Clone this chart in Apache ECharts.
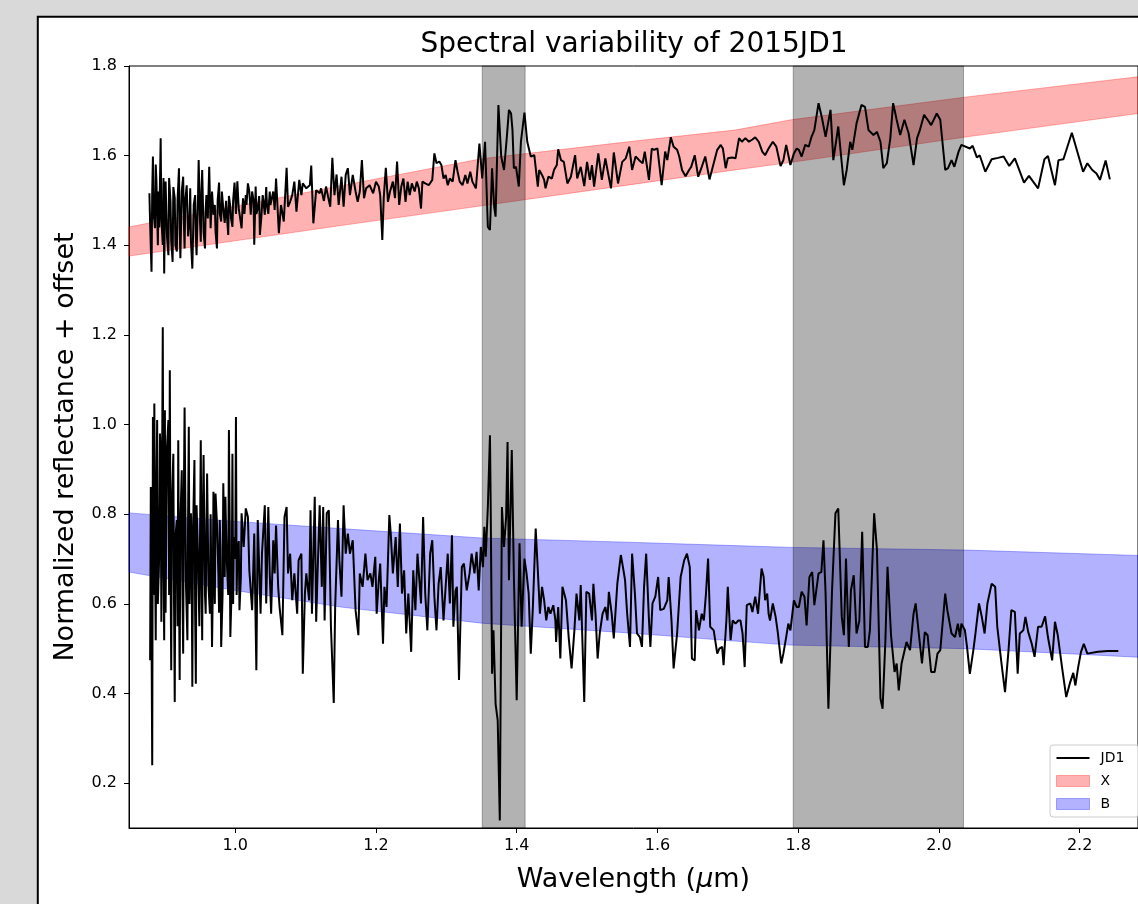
<!DOCTYPE html>
<html><head><meta charset="utf-8">
<script src="https://cdn.jsdelivr.net/npm/echarts@6/dist/echarts.min.js"></script>
<style>html,body{margin:0;padding:0;background:#d9d9d9;overflow:hidden}#chart{width:1138px;height:904px}</style>
</head><body><div id="chart"></div>
<script>
const xTicks = [1.0, 1.2, 1.4, 1.6, 1.8, 2.0, 2.2];
const yTicks = [0.2, 0.4, 0.6, 0.8, 1.0, 1.2, 1.4, 1.6, 1.8];
const absorptionBands = [[1.351, 1.412], [1.793, 2.035]];

const templateWave = [0.849, 1.0, 1.15, 1.35, 1.57, 1.71, 1.79, 2.04, 2.283];
const xLower = [1.376, 1.410, 1.444, 1.488, 1.537, 1.568, 1.585, 1.642, 1.694];
const xUpper = [1.441, 1.487, 1.533, 1.593, 1.633, 1.657, 1.680, 1.731, 1.776];
const bLower = [0.671, 0.630, 0.593, 0.557, 0.534, 0.517, 0.508, 0.500, 0.481];
const bUpper = [0.803, 0.784, 0.768, 0.747, 0.737, 0.730, 0.726, 0.720, 0.708];

const jd1Top = [
[0.878,1.516],[0.879,1.45],[0.881,1.341],[0.882,1.52],[0.883,1.598],[0.884,1.47],[0.886,1.438],[0.887,1.58],[0.888,1.542],[0.890,1.40],[0.891,1.52],[0.892,1.44],[0.894,1.639],[0.895,1.46],[0.897,1.401],[0.898,1.55],[0.899,1.337],[0.900,1.48],[0.901,1.542],[0.903,1.42],[0.905,1.378],[0.906,1.55],[0.908,1.497],[0.909,1.41],[0.911,1.363],[0.912,1.53],[0.914,1.505],[0.915,1.40],[0.917,1.386],[0.918,1.50],[0.920,1.572],[0.921,1.44],[0.922,1.371],[0.924,1.52],[0.926,1.553],[0.927,1.45],[0.928,1.393],[0.929,1.50],[0.931,1.534],[0.933,1.42],[0.935,1.460],[0.936,1.527],[0.937,1.41],[0.939,1.348],[0.941,1.49],[0.943,1.512],[0.944,1.42],[0.945,1.378],[0.947,1.50],[0.948,1.590],[0.950,1.45],[0.951,1.408],[0.952,1.52],[0.953,1.568],[0.955,1.43],[0.957,1.393],[0.958,1.48],[0.959,1.512],[0.961,1.46],[0.963,1.575],[0.965,1.438],[0.967,1.52],[0.969,1.468],[0.971,1.490],[0.972,1.43],[0.974,1.393],[0.975,1.50],[0.977,1.540],[0.978,1.47],[0.980,1.453],[0.981,1.52],[0.983,1.482],[0.985,1.45],[0.987,1.499],[0.988,1.47],[0.990,1.423],[0.991,1.51],[0.993,1.486],[0.994,1.46],[0.996,1.441],[0.997,1.50],[0.999,1.540],[1.001,1.47],[1.003,1.543],[1.004,1.51],[1.005,1.482],[1.007,1.46],[1.009,1.438],[1.011,1.505],[1.013,1.47],[1.015,1.512],[1.016,1.49],[1.018,1.538],[1.020,1.52],[1.022,1.468],[1.023,1.47],[1.024,1.520],[1.026,1.50],[1.027,1.401],[1.029,1.531],[1.030,1.47],[1.032,1.482],[1.034,1.51],[1.035,1.423],[1.037,1.46],[1.039,1.512],[1.040,1.50],[1.042,1.468],[1.044,1.53],[1.045,1.490],[1.047,1.47],[1.049,1.520],[1.050,1.49],[1.052,1.505],[1.054,1.52],[1.056,1.479],[1.058,1.549],[1.062,1.427],[1.065,1.490],[1.069,1.453],[1.073,1.573],[1.075,1.486],[1.078,1.497],[1.081,1.512],[1.084,1.542],[1.087,1.475],[1.091,1.546],[1.094,1.512],[1.096,1.538],[1.101,1.527],[1.106,1.534],[1.108,1.578],[1.111,1.449],[1.115,1.523],[1.120,1.516],[1.122,1.527],[1.126,1.499],[1.129,1.531],[1.132,1.508],[1.135,1.486],[1.138,1.595],[1.141,1.512],[1.144,1.558],[1.147,1.490],[1.151,1.553],[1.154,1.486],[1.157,1.557],[1.160,1.572],[1.163,1.512],[1.167,1.557],[1.171,1.520],[1.174,1.497],[1.177,1.520],[1.180,1.590],[1.183,1.505],[1.186,1.527],[1.191,1.534],[1.196,1.516],[1.200,1.542],[1.204,1.531],[1.206,1.512],[1.209,1.412],[1.211,1.505],[1.214,1.573],[1.217,1.497],[1.220,1.520],[1.224,1.542],[1.227,1.505],[1.230,1.587],[1.233,1.490],[1.236,1.531],[1.239,1.549],[1.242,1.497],[1.245,1.542],[1.248,1.512],[1.251,1.538],[1.255,1.520],[1.258,1.542],[1.261,1.527],[1.264,1.482],[1.266,1.542],[1.270,1.538],[1.275,1.534],[1.280,1.546],[1.283,1.605],[1.286,1.583],[1.290,1.587],[1.293,1.579],[1.296,1.549],[1.299,1.557],[1.302,1.534],[1.305,1.549],[1.309,1.542],[1.313,1.590],[1.316,1.564],[1.319,1.542],[1.323,1.534],[1.327,1.557],[1.330,1.538],[1.334,1.564],[1.337,1.542],
[1.342,1.527],[1.347,1.627],[1.351,1.549],[1.355,1.631],[1.359,1.441],[1.362,1.434],[1.365,1.572],[1.368,1.486],[1.370,1.464],[1.374,1.713],[1.378,1.598],[1.382,1.568],[1.386,1.642],[1.389,1.702],[1.392,1.694],[1.394,1.657],[1.396,1.572],[1.399,1.575],[1.403,1.531],[1.406,1.631],[1.411,1.696],[1.415,1.631],[1.420,1.598],[1.425,1.601],[1.430,1.531],[1.432,1.568],[1.436,1.557],[1.439,1.546],[1.441,1.527],[1.445,1.553],[1.450,1.549],[1.453,1.568],[1.457,1.579],[1.459,1.614],[1.463,1.590],[1.467,1.586],[1.472,1.538],[1.477,1.553],[1.483,1.601],[1.486,1.549],[1.491,1.575],[1.496,1.532],[1.500,1.586],[1.504,1.546],[1.507,1.579],[1.510,1.531],[1.516,1.605],[1.521,1.546],[1.526,1.594],[1.530,1.560],[1.534,1.527],[1.538,1.607],[1.544,1.538],[1.550,1.586],[1.555,1.594],[1.560,1.620],[1.564,1.568],[1.569,1.598],[1.574,1.590],[1.579,1.583],[1.582,1.609],[1.588,1.546],[1.592,1.616],[1.595,1.613],[1.600,1.616],[1.606,1.534],[1.611,1.609],[1.614,1.590],[1.619,1.641],[1.623,1.620],[1.628,1.613],[1.631,1.598],[1.635,1.568],[1.640,1.554],[1.645,1.568],[1.648,1.575],[1.653,1.601],[1.658,1.553],[1.663,1.575],[1.668,1.598],[1.674,1.547],[1.680,1.583],[1.685,1.613],[1.690,1.624],[1.693,1.616],[1.697,1.572],[1.700,1.594],[1.706,1.596],[1.711,1.594],[1.716,1.639],[1.720,1.631],[1.725,1.639],[1.730,1.631],[1.735,1.636],[1.739,1.641],[1.744,1.631],[1.749,1.609],[1.753,1.601],[1.758,1.616],[1.764,1.631],[1.769,1.620],[1.775,1.577],[1.779,1.590],[1.783,1.624],[1.789,1.579],[1.794,1.605],[1.798,1.616],
[1.801,1.613],[1.805,1.598],[1.810,1.624],[1.815,1.620],[1.819,1.642],[1.823,1.657],[1.829,1.717],[1.834,1.683],[1.839,1.642],[1.846,1.702],[1.850,1.590],[1.857,1.665],[1.865,1.534],[1.869,1.568],[1.874,1.631],[1.877,1.613],[1.883,1.672],[1.890,1.713],[1.895,1.709],[1.900,1.657],[1.907,1.646],[1.912,1.653],[1.917,1.631],[1.921,1.572],[1.926,1.583],[1.931,1.639],[1.935,1.717],[1.940,1.680],[1.945,1.646],[1.951,1.680],[1.957,1.650],[1.964,1.579],[1.969,1.639],[1.973,1.657],[1.979,1.691],[1.984,1.680],[1.989,1.668],[1.997,1.694],[2.002,1.680],[2.009,1.568],[2.013,1.572],[2.018,1.590],[2.022,1.575],[2.028,1.609],[2.032,1.624],[2.044,1.616],[2.048,1.622],[2.054,1.596],[2.058,1.601],[2.066,1.564],[2.075,1.592],[2.084,1.595],[2.092,1.598],[2.100,1.577],[2.108,1.594],[2.121,1.540],[2.128,1.555],[2.141,1.527],[2.150,1.592],[2.155,1.599],[2.165,1.534],[2.170,1.590],[2.177,1.592],[2.189,1.651],[2.205,1.564],[2.211,1.583],[2.218,1.568],[2.224,1.560],[2.229,1.546],[2.237,1.589],[2.243,1.547]
];

const jd1Bottom = [
[0.879,0.474],[0.880,0.861],[0.882,0.240],[0.883,1.017],[0.884,0.62],[0.885,1.047],[0.886,0.72],[0.887,0.519],[0.888,0.84],[0.889,1.010],[0.890,0.60],[0.892,0.712],[0.893,0.98],[0.894,0.935],[0.895,0.56],[0.897,1.217],[0.898,0.70],[0.899,0.519],[0.900,1.032],[0.901,0.58],[0.902,0.772],[0.903,0.95],[0.905,1.010],[0.906,0.62],[0.907,1.121],[0.908,0.70],[0.909,0.452],[0.910,0.82],[0.912,0.935],[0.913,0.60],[0.914,0.381],[0.915,0.75],[0.917,0.787],[0.918,0.55],[0.919,0.965],[0.920,0.66],[0.921,0.430],[0.922,0.78],[0.924,0.898],[0.925,0.62],[0.926,0.489],[0.927,0.85],[0.928,1.038],[0.930,0.64],[0.932,0.519],[0.933,0.80],[0.934,0.995],[0.935,0.60],[0.937,0.802],[0.938,0.70],[0.939,0.415],[0.940,0.76],[0.942,0.921],[0.943,0.58],[0.944,0.422],[0.945,0.82],[0.947,0.712],[0.949,0.55],[0.951,0.965],[0.952,0.68],[0.953,0.519],[0.954,0.80],[0.955,0.932],[0.957,0.62],[0.958,0.578],[0.959,0.75],[0.960,0.891],[0.962,0.64],[0.964,0.578],[0.965,0.80],[0.967,0.504],[0.968,0.62],[0.969,0.850],[0.971,0.60],[0.972,0.846],[0.974,0.78],[0.976,0.668],[0.977,0.58],[0.978,0.787],[0.979,0.72],[0.980,0.504],[0.982,0.62],[0.983,0.869],[0.985,0.66],[0.986,0.839],[0.987,0.76],[0.988,0.697],[0.990,0.62],[0.991,0.988],[0.992,0.80],[0.993,0.526],[0.995,0.64],[0.996,0.935],[0.997,0.60],[0.998,0.749],[1.000,0.70],[1.001,1.017],[1.002,0.62],[1.003,0.712],[1.005,0.74],[1.006,0.586],[1.008,0.66],[1.009,0.802],[1.012,0.727],[1.015,0.813],[1.018,0.794],[1.020,0.675],[1.024,0.586],[1.027,0.757],[1.030,0.452],[1.032,0.787],[1.036,0.578],[1.038,0.712],[1.042,0.820],[1.044,0.601],[1.047,0.816],[1.049,0.668],[1.051,0.578],[1.054,0.742],[1.056,0.668],[1.058,0.775],[1.061,0.638],[1.063,0.593],[1.067,0.530],[1.070,0.794],[1.073,0.816],[1.075,0.668],[1.078,0.712],[1.081,0.608],[1.084,0.668],[1.088,0.578],[1.090,0.697],[1.094,0.712],[1.096,0.444],[1.099,0.623],[1.101,0.668],[1.105,0.608],[1.107,0.809],[1.109,0.578],[1.113,0.839],[1.115,0.560],[1.117,0.668],[1.120,0.820],[1.123,0.638],[1.125,0.816],[1.127,0.563],[1.130,0.802],[1.133,0.809],[1.136,0.549],[1.140,0.379],[1.142,0.593],[1.146,0.787],[1.148,0.697],[1.151,0.616],[1.154,0.820],[1.157,0.712],[1.160,0.757],[1.163,0.712],[1.167,0.742],[1.171,0.586],[1.175,0.530],[1.177,0.668],[1.181,0.638],[1.185,0.712],[1.188,0.653],[1.192,0.668],[1.195,0.638],[1.199,0.705],[1.201,0.578],[1.204,0.653],[1.206,0.690],[1.210,0.511],[1.212,0.638],[1.215,0.593],[1.219,0.798],[1.221,0.757],[1.224,0.668],[1.228,0.749],[1.231,0.638],[1.234,0.779],[1.237,0.623],[1.240,0.675],[1.243,0.534],[1.246,0.623],[1.250,0.493],[1.253,0.675],[1.256,0.586],[1.259,0.712],[1.264,0.601],[1.267,0.794],[1.270,0.623],[1.273,0.541],[1.277,0.712],[1.280,0.742],[1.283,0.616],[1.286,0.541],[1.289,0.645],[1.292,0.682],[1.296,0.563],[1.299,0.638],[1.302,0.712],[1.305,0.601],[1.308,0.753],[1.310,0.549],[1.313,0.630],[1.315,0.638],[1.318,0.430],[1.322,0.682],[1.325,0.690],[1.329,0.630],[1.333,0.668],[1.336,0.712],[1.340,0.668],
[1.343,0.716],[1.346,0.630],[1.349,0.727],[1.352,0.682],[1.354,0.772],[1.356,0.705],[1.359,0.816],[1.362,0.976],[1.363,0.824],[1.365,0.444],[1.367,0.541],[1.370,0.377],[1.373,0.340],[1.376,0.117],[1.379,0.816],[1.382,0.727],[1.385,0.794],[1.387,0.961],[1.389,0.653],[1.393,0.943],[1.396,0.660],[1.400,0.385],[1.404,0.735],[1.407,0.549],[1.411,0.701],[1.414,0.668],[1.417,0.623],[1.420,0.489],[1.423,0.593],[1.427,0.768],[1.430,0.675],[1.433,0.578],[1.436,0.638],[1.439,0.608],[1.442,0.563],[1.445,0.593],[1.448,0.578],[1.452,0.597],[1.455,0.563],[1.456,0.515],[1.459,0.593],[1.462,0.478],[1.465,0.638],[1.470,0.608],[1.474,0.523],[1.478,0.456],[1.482,0.541],[1.485,0.623],[1.489,0.563],[1.491,0.642],[1.496,0.381],[1.499,0.627],[1.503,0.623],[1.507,0.563],[1.509,0.645],[1.512,0.578],[1.515,0.478],[1.518,0.534],[1.522,0.578],[1.526,0.593],[1.529,0.563],[1.531,0.627],[1.535,0.578],[1.538,0.523],[1.543,0.645],[1.548,0.709],[1.551,0.682],[1.554,0.653],[1.557,0.578],[1.561,0.504],[1.564,0.712],[1.568,0.623],[1.571,0.534],[1.575,0.526],[1.578,0.504],[1.581,0.638],[1.584,0.712],[1.588,0.563],[1.590,0.504],[1.593,0.601],[1.597,0.616],[1.601,0.660],[1.604,0.586],[1.609,0.589],[1.614,0.608],[1.616,0.660],[1.620,0.563],[1.623,0.456],[1.628,0.534],[1.633,0.660],[1.638,0.697],[1.642,0.712],[1.646,0.682],[1.649,0.478],[1.653,0.474],[1.655,0.586],[1.659,0.541],[1.663,0.578],[1.666,0.563],[1.669,0.623],[1.672,0.701],[1.675,0.549],[1.680,0.541],[1.685,0.489],[1.688,0.500],[1.692,0.504],[1.694,0.463],[1.698,0.563],[1.700,0.638],[1.704,0.519],[1.707,0.563],[1.711,0.556],[1.715,0.563],[1.718,0.563],[1.721,0.534],[1.724,0.459],[1.727,0.597],[1.732,0.601],[1.735,0.582],[1.739,0.616],[1.743,0.578],[1.748,0.679],[1.751,0.660],[1.753,0.608],[1.756,0.623],[1.758,0.578],[1.760,0.563],[1.764,0.601],[1.768,0.571],[1.771,0.537],[1.776,0.467],[1.779,0.489],[1.783,0.526],[1.786,0.556],[1.789,0.541],[1.794,0.608],[1.798,0.593],
[1.801,0.593],[1.805,0.627],[1.809,0.616],[1.812,0.552],[1.816,0.660],[1.820,0.671],[1.823,0.597],[1.829,0.668],[1.833,0.671],[1.836,0.742],[1.839,0.623],[1.843,0.366],[1.848,0.623],[1.853,0.802],[1.857,0.813],[1.862,0.571],[1.865,0.530],[1.868,0.701],[1.872,0.504],[1.875,0.630],[1.879,0.664],[1.883,0.534],[1.887,0.563],[1.891,0.761],[1.895,0.504],[1.899,0.504],[1.902,0.541],[1.908,0.802],[1.912,0.720],[1.917,0.389],[1.920,0.366],[1.924,0.519],[1.927,0.683],[1.932,0.530],[1.937,0.448],[1.940,0.467],[1.943,0.407],[1.947,0.467],[1.954,0.515],[1.959,0.497],[1.964,0.578],[1.967,0.601],[1.971,0.541],[1.976,0.467],[1.980,0.537],[1.984,0.530],[1.989,0.448],[1.994,0.448],[1.998,0.489],[2.002,0.497],[2.004,0.497],[2.009,0.623],[2.012,0.586],[2.018,0.534],[2.023,0.526],[2.027,0.556],[2.030,0.526],[2.032,0.556],[2.037,0.541],[2.040,0.504],[2.044,0.444],[2.049,0.497],[2.052,0.534],[2.057,0.601],[2.061,0.571],[2.065,0.534],[2.069,0.601],[2.075,0.645],[2.080,0.638],[2.083,0.549],[2.089,0.467],[2.094,0.403],[2.099,0.497],[2.103,0.586],[2.108,0.582],[2.112,0.444],[2.115,0.534],[2.120,0.541],[2.123,0.571],[2.127,0.537],[2.132,0.511],[2.136,0.482],[2.141,0.549],[2.146,0.549],[2.151,0.572],[2.155,0.526],[2.161,0.474],[2.165,0.560],[2.169,0.530],[2.175,0.459],[2.181,0.392],[2.186,0.422],[2.191,0.446],[2.194,0.418],[2.198,0.459],[2.202,0.493],[2.206,0.511],[2.211,0.489],[2.226,0.493],[2.240,0.495],[2.255,0.495]
];

const FONT = 'DejaVu Sans';
const RED = 'rgba(255,0,0,0.3)';
const BLUE = 'rgba(0,0,255,0.3)';
const GREY = 'rgba(0,0,0,0.3)';

function bandSeries(name, lower, upper, color) {
  return {
    name: name, type: 'custom', silent: true, z: 2,
    itemStyle: { color: color },
    encode: { x: 0, y: [1, 2] },
    data: templateWave.map((w, i) => [w, lower[i], upper[i]]),
    renderItem: function (params, api) {
      if (params.dataIndex !== 0) return null;
      const top = templateWave.map((w, i) => api.coord([w, upper[i]]));
      const bot = templateWave.map((w, i) => api.coord([w, lower[i]])).reverse();
      return {
        type: 'polygon',
        shape: { points: top.concat(bot) },
        style: { fill: color, stroke: color, lineWidth: 1 }
      };
    }
  };
}

const chart = echarts.init(document.getElementById('chart'), null, { renderer: 'canvas' });
chart.setOption({
  backgroundColor: '#d9d9d9',
  animation: false,
  graphic: [{
    type: 'rect', z: -100, silent: true,
    shape: { x: 37.8, y: 16.8, width: 1200, height: 1000 },
    style: { fill: '#ffffff', stroke: '#000000', lineWidth: 2 }
  }],
  title: {
    text: 'Spectral variability of 2015JD1',
    left: 634, top: 31, padding: 0, textAlign: 'center',
    textStyle: { fontFamily: FONT, fontSize: 28, fontWeight: 'normal', color: '#000' }
  },
  legend: {
    orient: 'vertical', left: 1050, top: 745, selectedMode: false,
    itemWidth: 33, itemHeight: 11, itemGap: 9,
    padding: [6, 14, 6, 6],
    backgroundColor: 'rgba(255,255,255,0.8)', borderColor: '#cccccc', borderWidth: 1, borderRadius: 3,
    textStyle: { fontFamily: FONT, fontSize: 14, color: '#000', padding: [0, 0, 0, 6] },
    data: [
      { name: 'JD1', icon: 'path://M0,0L33,0L33,2L0,2Z' },
      { name: 'X', icon: 'rect', itemStyle: { color: RED, borderColor: RED, borderWidth: 1 } },
      { name: 'B', icon: 'rect', itemStyle: { color: BLUE, borderColor: BLUE, borderWidth: 1 } }
    ]
  },
  grid: { left: 129, top: 66, right: -2, bottom: 76, show: true, borderColor: '#000', borderWidth: 1, backgroundColor: 'transparent' },
  xAxis: {
    type: 'value', min: 0.849, max: 2.283,
    name: 'Wavelength ({i|μ}m)', nameLocation: 'middle', nameGap: 38,
    nameTextStyle: { fontFamily: FONT, fontSize: 27, color: '#000',
      rich: { i: { fontFamily: FONT, fontSize: 27, fontStyle: 'italic', color: '#000' } } },
    axisLine: { lineStyle: { color: '#000', width: 1 } },
    axisTick: { customValues: xTicks, length: 5, lineStyle: { color: '#000' } },
    axisLabel: { customValues: xTicks, formatter: v => v.toFixed(1), fontFamily: FONT, fontSize: 16, color: '#000', margin: 10 },
    splitLine: { show: false }
  },
  yAxis: {
    type: 'value', min: 0.1, max: 1.8,
    name: 'Normalized reflectance + offset', nameLocation: 'middle', nameGap: 50,
    nameTextStyle: { fontFamily: FONT, fontSize: 27, color: '#000' },
    axisLine: { show: true, lineStyle: { color: '#000', width: 1 } },
    axisTick: { show: true, customValues: yTicks, length: 5, lineStyle: { color: '#000' } },
    axisLabel: { customValues: yTicks, formatter: v => v.toFixed(1), fontFamily: FONT, fontSize: 16, color: '#000', margin: 12 },
    splitLine: { show: false }
  },
  series: [
    bandSeries('X', xLower, xUpper, RED),
    bandSeries('B', bLower, bUpper, BLUE),
    { name: 'spans', type: 'custom', z: 3, silent: true,
      encode: { x: [0, 1] },
      data: absorptionBands,
      renderItem: function (params, api) {
        const cs = params.coordSys;
        const x0 = api.coord([api.value(0), 1])[0];
        const x1 = api.coord([api.value(1), 1])[0];
        return { type: 'rect', shape: { x: x0, y: cs.y, width: x1 - x0, height: cs.height },
          style: { fill: GREY, stroke: GREY, lineWidth: 1 } };
      } },
    { name: 'JD1', type: 'line', data: jd1Top, symbol: 'none', z: 4,
      lineStyle: { color: '#000', width: 2 }, itemStyle: { color: '#000' } },
    { name: 'JD1', type: 'line', data: jd1Bottom, symbol: 'none', z: 4,
      lineStyle: { color: '#000', width: 2 }, itemStyle: { color: '#000' } }
  ]
});
</script>
</body></html>
